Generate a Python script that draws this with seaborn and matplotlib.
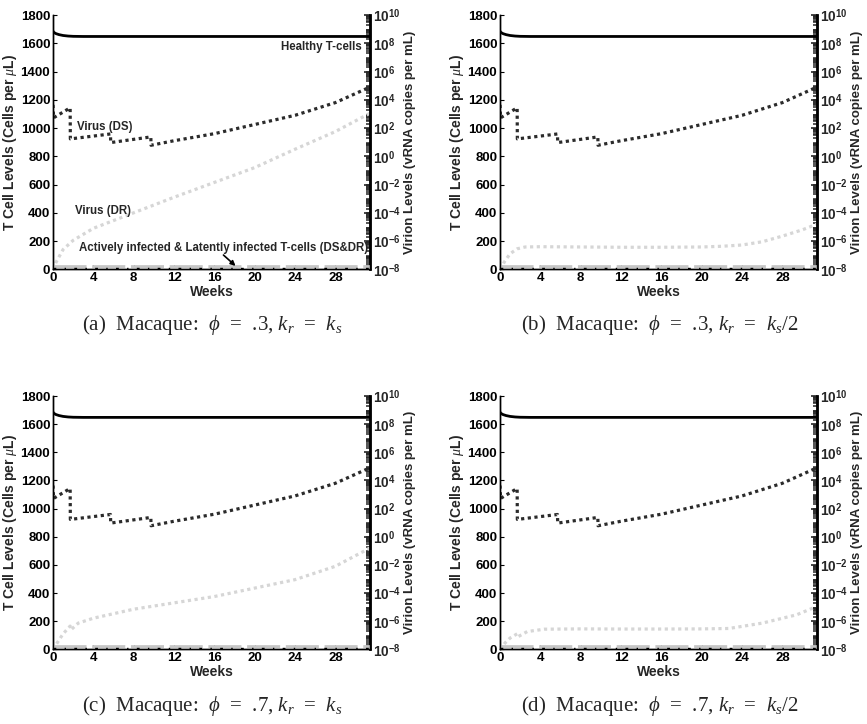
import numpy as np
import pandas as pd
import matplotlib
matplotlib.use("Agg")
import matplotlib.pyplot as plt
import seaborn as sns
from matplotlib.ticker import FixedLocator, LogLocator, NullFormatter

sns.set_style("ticks")
plt.rcParams['font.family'] = ['Liberation Sans', 'DejaVu Sans']
plt.rcParams['mathtext.fontset'] = 'custom'
plt.rcParams['mathtext.rm'] = 'Liberation Sans:bold'
plt.rcParams['mathtext.bf'] = 'Liberation Sans:bold'
plt.rcParams['mathtext.it'] = 'Liberation Serif:italic'

# ---------------- data ----------------
t_end = 31.43
healthy_t = [0, 0.1, 0.3, 0.6, 1, 1.5, 2, 3, t_end]
healthy_cells = [1685, 1676, 1668, 1661, 1655, 1651, 1649, 1648, 1648]

ds_t = [0, 0.05, 1.7, 1.72, 5.7, 5.72, 9.7, 9.72, 12, 16, 20, 24, 28, t_end]
ds_log10 = [3.64, 2.72, 3.43, 1.23, 1.58, 0.97, 1.37, 0.78, 1.1, 1.6, 2.25, 2.9, 3.8, 4.9]

dr_a_t = [0, 0.3, 1, 2, 4, 8, 12, 16, 20, 24, 28, t_end]
dr_a_log10 = [-8, -7.5, -6.6, -5.95, -5.1, -4.0, -2.9, -1.85, -0.8, 0.5, 1.75, 3.05]

dr_b_t = [0, 0.5, 1, 1.7, 2.5, 4, 8, 12, 16, 20, 22, 24, 26, 28, 30, t_end]
dr_b_log10 = [-8, -7.4, -6.9, -6.55, -6.42, -6.4, -6.42, -6.44, -6.44, -6.42, -6.37, -6.28, -6.05, -5.65, -5.2, -4.8]

dr_c_t = [0, 0.5, 1, 1.7, 1.8, 2.5, 4, 8, 12, 16, 20, 24, 28, t_end]
dr_c_log10 = [-8, -7.45, -6.9, -6.35, -6.6, -6.14, -5.79, -5.15, -4.7, -4.25, -3.65, -3.05, -2.1, -0.8]

dr_d_t = [0, 0.5, 1, 1.7, 1.8, 2.7, 4.4, 8, 12, 16, 20, 22.7, 26, 29.4, t_end]
dr_d_log10 = [-8, -7.55, -7.2, -6.9, -7.1, -6.74, -6.57, -6.55, -6.56, -6.56, -6.55, -6.52, -6.14, -5.55, -4.95]

infected_t = [0, t_end]
infected_gray = [14, 14]
infected_black = [8, 8]

captions = [r"(a)  Macaque:  $\phi$  =  .3, $k_r$  =  $k_s$",
            r"(b)  Macaque:  $\phi$  =  .3, $k_r$  =  $k_s$/2",
            r"(c)  Macaque:  $\phi$  =  .7, $k_r$  =  $k_s$",
            r"(d)  Macaque:  $\phi$  =  .7, $k_r$  =  $k_s$/2"]
dr_sets = [(dr_a_t, dr_a_log10), (dr_b_t, dr_b_log10),
           (dr_c_t, dr_c_log10), (dr_d_t, dr_d_log10)]

left_ticks = list(range(0, 1801, 200))
week_ticks = list(range(0, 29, 4))
right_exps = list(range(-8, 11, 2))

# ---------------- figure ----------------
W, H = 867, 724
fig = plt.figure(figsize=(W / 100, H / 100), dpi=100)

def fx(px):
    return px / W

def fy(py):
    return 1 - py / H

positions = [(53, 370, 15, 269.3), (500, 817, 15, 269.3),
             (53, 370, 396, 649.3), (500, 817, 396, 649.3)]
cap_pos = [(212, 325), (660, 325), (212, 706), (660, 706)]

dotted = (0, (1, 1.1))
fs = 9.5
fs_lab = 9.5
fs_ann = 8.3

for i in range(4):
    l, r, t, b = positions[i]
    ax = fig.add_axes([fx(l), fy(b), fx(r) - fx(l), fy(t) - fy(b)])
    ax2 = ax.twinx()
    ax.set_zorder(ax2.get_zorder() + 1)
    ax.patch.set_visible(False)

    # left axis: T cells
    sns.lineplot(x=healthy_t, y=healthy_cells, ax=ax, color='black', lw=2.0,
                 estimator=None, sort=False)
    sns.lineplot(x=infected_t, y=infected_gray, ax=ax, color='#c6c6c6', lw=3.4,
                 linestyle=(0, (7, 1.2)), estimator=None, sort=False)
    sns.lineplot(x=infected_t, y=infected_black, ax=ax, color='black', lw=1.0,
                 linestyle=(0, (2, 6, 1, 6)), estimator=None, sort=False)

    # right axis: virions
    dr_t, dr_l = dr_sets[i]
    sns.lineplot(x=dr_t, y=10.0 ** np.array(dr_l), ax=ax2, color='#d6d6d6', lw=2.3,
                 linestyle=dotted, estimator=None, sort=False)
    sns.lineplot(x=ds_t, y=10.0 ** np.array(ds_log10), ax=ax2, color='#2b2b2b', lw=2.3,
                 linestyle=dotted, estimator=None, sort=False)

    ax.set_xlim(0, t_end)
    ax.set_ylim(0, 1800)
    ax.set_xticks(week_ticks)
    ax.set_yticks(left_ticks)
    ax.set_xticklabels([str(v) for v in week_ticks], fontsize=fs, fontweight='bold')
    ax.set_yticklabels([str(v) for v in left_ticks], fontsize=fs, fontweight='bold')
    ax.tick_params(direction='in', length=3, width=0.8, pad=2, colors='black')
    ax.set_xlabel("Weeks", fontsize=10, fontweight='bold', labelpad=1)
    ax.set_ylabel(r"T Cell Levels (Cells per $\mu$L)", fontsize=10, fontweight='bold', labelpad=1)

    ax2.set_yscale('log')
    ax2.set_ylim(1e-8, 1e10)
    ax2.yaxis.set_major_locator(FixedLocator([10.0 ** e for e in right_exps]))
    ax2.set_yticklabels([r"$10^{%d}$" % e for e in right_exps], fontsize=9.8)
    ax2.yaxis.set_minor_locator(LogLocator(base=10, subs=np.arange(2, 10), numticks=100))
    ax2.yaxis.set_minor_formatter(NullFormatter())
    ax2.tick_params(axis='y', which='major', direction='in', length=4, width=1.2, pad=2)
    ax2.tick_params(axis='y', which='minor', direction='in', length=3, width=1.1)
    ax2.set_ylabel("Virion Levels (vRNA copies per mL)", fontsize=fs_lab, fontweight='bold', labelpad=2)

    for a in (ax, ax2):
        a.spines['top'].set_visible(False)
        for s in ('left', 'right', 'bottom'):
            a.spines[s].set_linewidth(1.0)
            a.spines[s].set_color('black')
    ax2.spines['right'].set_linewidth(2.0)

    if i == 0:
        ax.text(30.6, 1575, "Healthy T-cells", ha='right', va='center', fontsize=fs_ann, fontweight='bold')
        ax.text(2.4, 1008, "Virus (DS)", ha='left', va='center', fontsize=fs_ann, fontweight='bold')
        ax.text(2.2, 414, "Virus (DR)", ha='left', va='center', fontsize=fs_ann, fontweight='bold')
        ax.text(2.6, 151, "Actively infected & Latently infected T-cells (DS&DR)",
                ha='left', va='center', fontsize=fs_ann, fontweight='bold')
        ax.annotate("", xy=(18.1, 24), xytext=(16.9, 101),
                    arrowprops=dict(arrowstyle='-|>', color='black', lw=1.2,
                                    mutation_scale=7, shrinkA=0, shrinkB=0))

    cx, cy = cap_pos[i]
    fig.text(fx(cx), fy(cy), captions[i], ha='center', va='center', fontsize=15,
             family=['Liberation Serif', 'DejaVu Serif'])

fig.savefig("out.png", dpi=100)
